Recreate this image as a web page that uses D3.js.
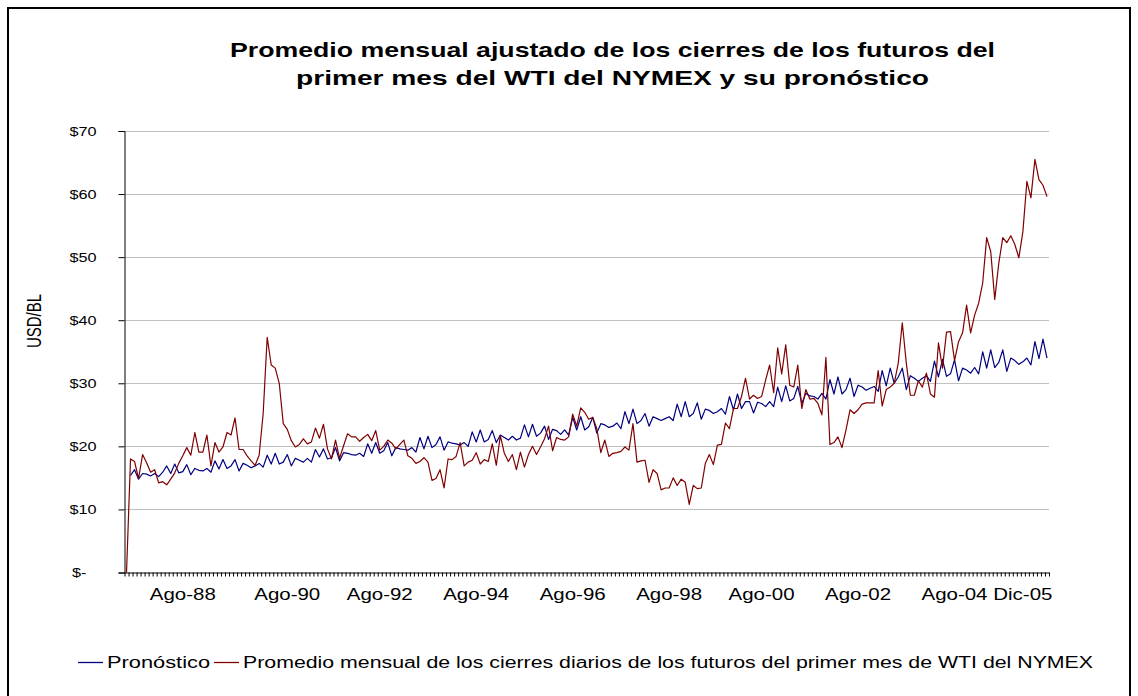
<!DOCTYPE html>
<html>
<head>
<meta charset="utf-8">
<script src="https://cdnjs.cloudflare.com/ajax/libs/d3/7.8.5/d3.min.js"></script>
<style>
  body { margin: 0; background: #fff; }
  text { font-family: Arial, "Liberation Sans", sans-serif; fill: #000; }
</style>
</head>
<body>
<div id="chart"></div>
<script>
// monthly categories, first one is Jun-87
var nMonths = 230;

// forecast (blue); the first month has no value
var pronostico = [null,
  15.4, 16.3, 14.8, 15.7, 15.6, 15.3, 15.7, 15.2, 15.9, 16.9,
  15.7, 17.2, 15.8, 16.0, 17.1, 15.5, 16.5, 16.2, 16.1, 16.5,
  15.9, 17.7, 16.4, 17.9, 16.5, 16.9, 17.9, 16.1, 17.3, 17.0,
  16.6, 16.9, 17.3, 16.7, 18.6, 17.2, 18.9, 17.2, 17.5, 18.7,
  16.9, 18.1, 17.8, 17.5, 18.1, 17.5, 19.5, 18.3, 19.6, 18.0,
  18.2, 19.8, 17.7, 19.0, 18.9, 18.7, 18.6, 18.9, 18.4, 20.4,
  18.9, 20.6, 18.9, 19.3, 20.6, 18.5, 19.8, 19.6, 19.5, 19.4,
  19.8, 19.1, 21.4, 19.6, 21.6, 19.8, 20.3, 21.5, 19.4, 20.7,
  20.5, 20.4, 20.2, 20.6, 20.0, 22.3, 20.7, 22.6, 20.7, 21.1,
  22.5, 20.6, 21.8, 21.4, 21.0, 21.6, 21.0, 21.3, 23.4, 21.5,
  23.5, 21.6, 22.1, 23.2, 21.1, 22.7, 22.5, 21.9, 22.6, 21.8,
  24.6, 22.6, 24.7, 22.6, 23.1, 24.6, 22.1, 23.6, 23.4, 23.0,
  23.2, 23.7, 22.8, 25.5, 23.6, 25.9, 23.6, 24.1, 25.2, 23.2,
  24.7, 24.4, 24.1, 24.4, 24.7, 24.1, 26.7, 24.7, 27.1, 24.7,
  25.2, 26.9, 24.3, 25.9, 25.7, 25.2, 25.5, 26.0, 25.1, 27.9,
  25.8, 28.3, 26.0, 27.1, 27.1, 25.3, 27.0, 26.8, 26.3, 27.1,
  26.3, 29.4, 27.1, 29.6, 27.2, 27.6, 29.5, 26.8, 28.4, 28.0,
  27.9, 27.5, 28.4, 27.5, 30.6, 28.3, 31.0, 28.3, 29.0, 30.8,
  27.9, 29.7, 29.4, 28.9, 29.2, 29.5, 28.7, 32.0, 29.6, 32.4,
  30.0, 31.0, 32.4, 29.0, 31.2, 30.8, 30.3, 30.8, 31.2, 30.3,
  33.5, 31.0, 33.8, 31.1, 31.5, 33.7, 30.4, 32.4, 32.1, 31.6,
  32.5, 31.5, 35.0, 32.4, 35.3, 32.5, 33.3, 35.3, 31.9, 34.0,
  33.6, 33.0, 33.4, 34.0, 32.9, 36.6, 33.9, 37.0, 34.0];

// monthly average of the WTI first-month closes (red)
var promedio = [0,
  18.0, 17.6, 14.9, 18.7, 17.4, 15.9, 16.3, 14.2, 14.4, 13.9,
  14.8, 15.8, 17.3, 18.5, 19.8, 18.6, 22.2, 19.1, 19.1, 21.8,
  16.9, 20.6, 19.1, 19.9, 22.2, 21.8, 24.5, 19.5, 19.5, 18.5,
  17.7, 17.0, 18.6, 25.2, 37.3, 32.9, 32.4, 30.0, 23.6, 22.7,
  20.9, 19.9, 20.3, 21.2, 20.4, 20.7, 22.9, 21.3, 23.5, 19.6,
  18.0, 21.0, 18.1, 20.1, 22.0, 21.5, 21.5, 20.8, 21.4, 21.9,
  20.9, 22.5, 19.4, 20.0, 21.0, 20.5, 19.6, 20.3, 21.0, 18.5,
  18.1, 17.3, 17.6, 18.2, 17.5, 14.6, 14.9, 16.3, 13.4, 18.0,
  17.9, 18.4, 20.6, 16.9, 17.5, 17.8, 19.0, 17.2, 17.9, 17.6,
  20.4, 17.0, 21.7, 18.9, 17.6, 18.7, 16.3, 19.1, 16.7, 18.7,
  20.0, 18.7, 19.9, 21.2, 23.2, 19.3, 21.4, 21.1, 21.0, 21.5,
  25.1, 23.2, 26.1, 25.4, 24.3, 24.6, 22.8, 19.0, 21.0, 18.4,
  18.9, 19.0, 19.2, 19.9, 19.4, 23.6, 17.5, 17.7, 17.8, 14.3,
  16.3, 15.7, 13.1, 13.4, 13.4, 15.0, 13.8, 14.8, 14.3, 10.8,
  13.8, 13.3, 13.4, 17.3, 18.7, 17.1, 20.2, 20.3, 23.7, 22.8,
  26.0, 26.0, 27.9, 30.8, 27.5, 28.1, 27.6, 27.9, 30.5, 32.9,
  28.5, 35.6, 31.5, 36.1, 29.7, 29.4, 32.9, 26.0, 29.0, 27.5,
  27.6, 26.8, 25.0, 34.1, 20.3, 20.6, 21.5, 19.8, 22.6, 25.8,
  25.2, 25.8, 26.7, 26.9, 26.9, 26.9, 32.0, 26.4, 29.0, 29.4,
  30.0, 33.2, 39.6, 33.2, 28.1, 28.1, 30.4, 29.4, 31.6, 28.3,
  27.8, 36.4, 32.4, 38.1, 38.2, 33.6, 36.6, 38.0, 42.4, 38.0,
  40.8, 42.7, 45.9, 53.1, 50.9, 43.3, 49.0, 53.1, 52.3, 53.4,
  52.0, 49.9, 54.0, 62.0, 59.4, 65.5, 62.3, 61.4, 59.6];

// category labels shown under the axis and the month index they sit on
var xLabels = ["Ago-88", "Ago-90", "Ago-92", "Ago-94", "Ago-96", "Ago-98", "Ago-00", "Ago-02", "Ago-04", "Dic-05"];
var xLabelIndex = [14, 40, 63, 87, 111, 135, 158, 182, 206, 223];

var yTicks = [0, 10, 20, 30, 40, 50, 60, 70];

var seriesNames = ["Pronóstico", "Promedio mensual de los cierres diarios de los futuros del primer mes de WTI del NYMEX"];
var seriesColors = ["#000080", "#800000"];

var width = 1138, height = 696;
var plot = { left: 124.5, right: 1049, top: 131, bottom: 572.5 };

var svg = d3.select("#chart")
  .append("svg")
  .attr("width", width)
  .attr("height", height);

// the picture is a bit wider than the font, so glyphs get stretched sideways
function stretch(sel, sx) {
  sel.each(function() {
    var w = this.getComputedTextLength();
    d3.select(this)
      .attr("textLength", w * sx)
      .attr("lengthAdjust", "spacingAndGlyphs");
  });
}

// outer frame
svg.append("rect")
  .attr("x", 8).attr("y", 8)
  .attr("width", 1122).attr("height", 700)
  .attr("fill", "none")
  .attr("stroke", "#000")
  .attr("stroke-width", 2);

var xBand = d3.scaleBand().domain(d3.range(nMonths)).range([plot.left, plot.right]);
var xEdge = d3.scaleLinear().domain([0, nMonths]).range([plot.left, plot.right]);
var yScale = d3.scaleLinear().domain([0, 70]).range([plot.bottom, plot.top]);

function xMid(i) { return xBand(i) + xBand.bandwidth() / 2; }

// horizontal gridlines
svg.append("g")
  .selectAll("line")
  .data(yTicks.slice(1))
  .enter().append("line")
  .attr("x1", plot.left).attr("x2", plot.right)
  .attr("y1", function(d) { return Math.round(yScale(d)) + 0.5; })
  .attr("y2", function(d) { return Math.round(yScale(d)) + 0.5; })
  .attr("stroke", "#c0c0c0")
  .attr("stroke-width", 1);

// y axis
var yAxis = d3.axisLeft(yScale)
  .tickValues(yTicks)
  .tickSize(6)
  .tickPadding(22)
  .tickFormat(function(d) { return d === 0 ? "$-" : "$" + d; });

var yG = svg.append("g")
  .attr("transform", "translate(" + plot.left + ",0)")
  .call(yAxis);
yG.select(".domain").attr("stroke", "#000");
yG.selectAll(".tick line").attr("stroke", "#000");
yG.selectAll(".tick text")
  .style("font-family", "Arial, 'Liberation Sans', sans-serif")
  .style("font-size", "12.5px")
  .attr("fill", "#000")
  .attr("dx", function(d) { return d === 0 ? -10 : 0; })
  .call(stretch, 1.3);

// x axis: a tick at every month boundary, no labels
var xAxis = d3.axisBottom(xEdge)
  .tickValues(d3.range(nMonths + 1))
  .tickSize(4)
  .tickSizeOuter(0)
  .tickFormat("");

var xG = svg.append("g")
  .attr("transform", "translate(0," + plot.bottom + ")")
  .call(xAxis);
xG.select(".domain").attr("stroke", "#000");
xG.selectAll(".tick line").attr("stroke", "#000");

svg.append("g")
  .selectAll("text")
  .data(xLabels)
  .enter().append("text")
  .attr("x", function(d, i) { return xMid(xLabelIndex[i]); })
  .attr("y", 600)
  .attr("text-anchor", "middle")
  .style("font-size", "16.5px")
  .text(function(d) { return d; })
  .call(stretch, 1.24);

// lines
var line = d3.line()
  .defined(function(d) { return d != null; })
  .x(function(d, i) { return xMid(i); })
  .y(function(d) { return yScale(d); });

[pronostico, promedio].forEach(function(series, k) {
  svg.append("path")
    .datum(series)
    .attr("d", line)
    .attr("fill", "none")
    .attr("stroke", seriesColors[k])
    .attr("stroke-width", 1.2)
    .attr("stroke-linejoin", "round");
});

// y title, widened sideways like the rest of the picture
svg.append("text")
  .attr("transform", "translate(41,321) scale(1.3,1) rotate(-90)")
  .attr("text-anchor", "middle")
  .style("font-size", "15px")
  .text("USD/BL");

// chart title
var titleLines = ["Promedio mensual ajustado de los cierres de los futuros del",
                  "primer mes del WTI del NYMEX y su pronóstico"];
var titleWidths = [765, 633];
svg.append("g")
  .selectAll("text")
  .data(titleLines)
  .enter().append("text")
  .attr("x", 612.5)
  .attr("y", function(d, i) { return 57 + i * 28; })
  .attr("text-anchor", "middle")
  .style("font-size", "21px")
  .style("font-weight", "bold")
  .attr("textLength", function(d, i) { return titleWidths[i]; })
  .attr("lengthAdjust", "spacingAndGlyphs")
  .text(function(d) { return d; });

// legend
var legendX = [78, 214];
var legendTextW = [103, 850];
var legend = svg.append("g");
seriesNames.forEach(function(name, k) {
  legend.append("line")
    .attr("x1", legendX[k]).attr("x2", legendX[k] + 25)
    .attr("y1", 662.5).attr("y2", 662.5)
    .attr("stroke", seriesColors[k])
    .attr("stroke-width", 1.3);
  legend.append("text")
    .attr("x", legendX[k] + 29)
    .attr("y", 668)
    .style("font-size", "16px")
    .attr("textLength", legendTextW[k])
    .attr("lengthAdjust", "spacingAndGlyphs")
    .text(name);
});
</script>
</body>
</html>
